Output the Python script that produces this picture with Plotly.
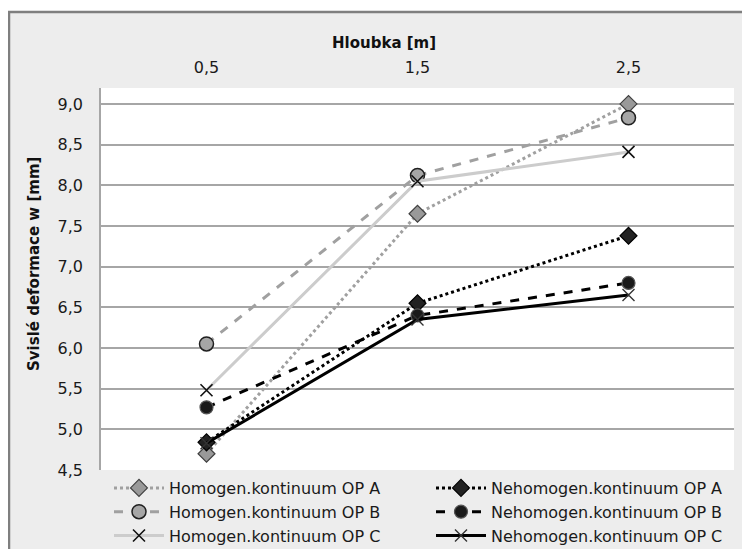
import plotly.graph_objects as go

depth = ["0,5", "1,5", "2,5"]
hom_a = [4.70, 7.65, 9.00]
hom_b = [6.05, 8.12, 8.83]
hom_c = [5.48, 8.05, 8.41]
neh_a = [4.84, 6.55, 7.38]
neh_b = [5.27, 6.40, 6.80]
neh_c = [4.83, 6.35, 6.65]
names = ["Homogen.kontinuum OP A", "Homogen.kontinuum OP B", "Homogen.kontinuum OP C",
         "Nehomogen.kontinuum OP A", "Nehomogen.kontinuum OP B", "Nehomogen.kontinuum OP C"]
x_title = "Hloubka [m]"
y_title = "Svislé deformace w [mm]"

FONT = "DejaVu Sans"
fig = go.Figure()

series = [
    (names[0], hom_a, dict(color="#a0a0a0", width=3, dash="dot"),
     dict(symbol="diamond", size=13, color="#999999", line=dict(color="#404040", width=1.2)), "legend"),
    (names[1], hom_b, dict(color="#a0a0a0", width=3, dash="dash"),
     dict(symbol="circle", size=14, color="#a6a6a6", line=dict(color="#202020", width=1.5)), "legend"),
    (names[2], hom_c, dict(color="#cccccc", width=3, dash="solid"),
     dict(symbol="x-thin", size=12, color="#111111", line=dict(color="#111111", width=1.6)), "legend"),
    (names[3], neh_a, dict(color="#000000", width=3, dash="dot"),
     dict(symbol="diamond", size=13, color="#222222", line=dict(color="#000000", width=1.2)), "legend2"),
    (names[4], neh_b, dict(color="#000000", width=3, dash="dash"),
     dict(symbol="circle", size=13, color="#1a1a1a", line=dict(color="#555555", width=1.2)), "legend2"),
    (names[5], neh_c, dict(color="#000000", width=3, dash="solid"),
     dict(symbol="x-thin", size=12, color="#333333", line=dict(color="#333333", width=1.4)), "legend2"),
]

for name, vals, line, marker, lg in series:
    fig.add_trace(go.Scatter(x=depth, y=vals, name=name, mode="lines+markers",
                             line=line, marker=marker, legend=lg))

# page body has an 8px margin: figure coords = screen coords - 8
OFF = 8
FW, FH = 750 - OFF, 549 - OFF
# plot area in screen coords: left 101, right 734, top 88, bottom 470
L, R, T, B = 101 - OFF, 734 - OFF, 88 - OFF, 470 - OFF
W, H = R - L, B - T

def px_x(p):  # screen x -> paper
    return (p - OFF - L) / W

def px_y(p):  # screen y -> paper
    return (B - (p - OFF)) / H

shapes = [
    dict(type="rect", xref="paper", yref="paper", x0=px_x(0), x1=px_x(760), y0=px_y(11), y1=px_y(0),
         fillcolor="white", line=dict(width=0), layer="below"),
    dict(type="line", xref="paper", yref="paper", x0=px_x(8), x1=px_x(760), y0=px_y(12), y1=px_y(12),
         line=dict(color="#7f7f7f", width=2.5)),
    dict(type="line", xref="paper", yref="paper", x0=px_x(9), x1=px_x(9), y0=px_y(12), y1=px_y(560),
         line=dict(color="#7f7f7f", width=2.5)),
]

annotations = [
    dict(text="<b>" + x_title + "</b>", xref="paper", yref="paper", x=px_x(384), y=px_y(43),
         xanchor="center", yanchor="middle", showarrow=False,
         font=dict(family=FONT, size=15, color="#111111")),
    dict(text="<b>" + y_title + "</b>", xref="paper", yref="paper", x=px_x(34), y=px_y(264),
         xanchor="center", yanchor="middle", showarrow=False, textangle=-90,
         font=dict(family=FONT, size=15, color="#111111")),
]

legend_common = dict(orientation="v", xanchor="left", yanchor="top", itemwidth=50,
                     font=dict(family=FONT, size=16, color="#1a1a1a"),
                     bgcolor="rgba(0,0,0,0)", tracegroupgap=0, itemclick=False)

fig.update_layout(
    width=FW, height=FH,
    margin=dict(l=L, r=FW - R, t=T, b=FH - B, autoexpand=False),
    paper_bgcolor="#ededed", plot_bgcolor="white",
    separators=", ",
    font=dict(family=FONT, size=16, color="#1a1a1a"),
    shapes=shapes,
    annotations=annotations,
    showlegend=True,
    legend=dict(x=px_x(109), y=px_y(471), **legend_common),
    legend2=dict(x=px_x(431), y=px_y(471), **legend_common),
    xaxis=dict(type="category", side="top", range=[-0.5, 2.5],
               showgrid=False, showline=False, ticks="outside", ticklen=8,
               tickcolor="rgba(0,0,0,0)", tickfont=dict(size=16)),
    yaxis=dict(range=[4.5, 9.196], dtick=0.5, tick0=4.5, tickformat=".1f",
               showgrid=True, gridcolor="#a6a6a6", gridwidth=1.5,
               showline=True, linecolor="#a6a6a6", linewidth=1.5,
               ticks="outside", ticklen=13, tickcolor="rgba(0,0,0,0)",
               tickfont=dict(size=16), zeroline=False),
)

fig.write_html("out.html")
